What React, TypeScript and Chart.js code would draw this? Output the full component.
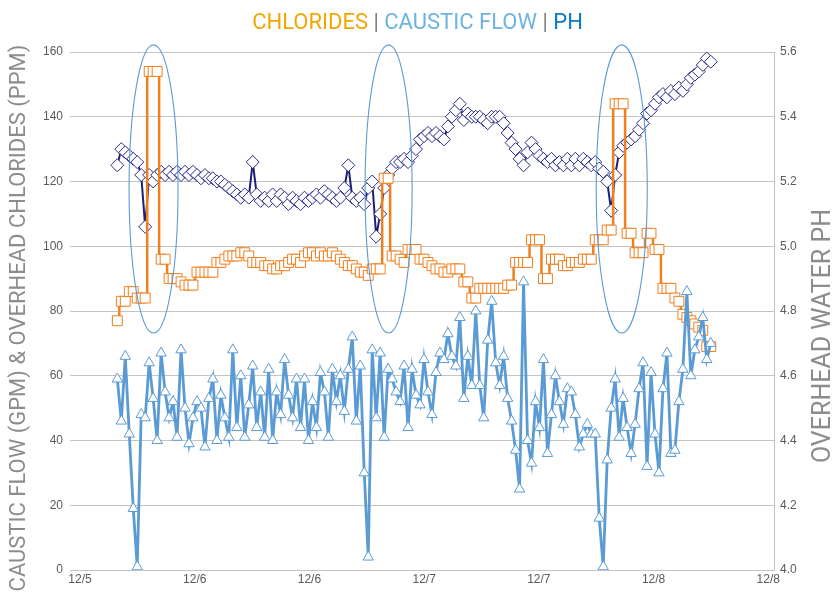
import { useEffect, useRef } from "react";
import { Chart, registerables } from "chart.js";

Chart.register(...registerables);

// ---- axis / tick definitions ----
const X_TICK_HOURS = [0, 12, 24, 36, 48, 60, 72]; // hours after 12/5 12:00
const X_TICK_LABELS = ["12/5", "12/6", "12/6", "12/7", "12/7", "12/8", "12/8"];
const LEFT_MIN = 0;
const LEFT_MAX = 160;
const LEFT_STEP = 20;
const RIGHT_MIN = 4.0;
const RIGHT_MAX = 5.6;
const RIGHT_STEP = 0.2;

const TITLE_PARTS = ["CHLORIDES", "CAUSTIC FLOW", "PH"];
const LEFT_AXIS_TITLE = "CAUSTIC FLOW (GPM) & OVERHEAD CHLORIDES (PPM)";
const RIGHT_AXIS_TITLE = "OVERHEAD WATER PH";

// ---- sampling (one sample every 25 minutes, starting 3.9 h after 12/5 12:00) ----
const SAMPLE_START_H = 3.9;
const SAMPLE_STEP_H = 25 / 60;

// ---- series values ----
const CAUSTIC_FLOW = [
  59, 46, 66, 42, 19, 1, 48, 47, 64, 53,
  40, 67, 55, 47, 52, 41, 68, 50, 39, 47,
  52, 50, 38, 53, 59, 40, 54, 47, 41, 68,
  44, 60, 41, 51, 63, 44, 55, 41, 62, 40,
  55, 48, 65, 54, 47, 59, 44, 59, 40, 52,
  44, 61, 55, 41, 62, 52, 60, 49, 62, 72,
  46, 63, 30, 4, 68, 47, 67, 41, 62, 59,
  55, 52, 63, 44, 62, 54, 51, 65, 55, 48,
  61, 67, 65, 73, 66, 63, 78, 53, 66, 57,
  80, 57, 47, 71, 83, 64, 57, 66, 53, 46,
  37, 25, 89, 40, 33, 52, 44, 65, 36, 48,
  60, 52, 45, 56, 55, 48, 38, 42, 45, 42,
  42, 16, 1, 34, 50, 59, 41, 53, 44, 36,
  45, 56, 64, 32, 61, 42, 30, 56, 67, 36,
  37, 52, 62, 86, 60, 68, 72, 78, 65, 70,
];

const CHLORIDES = [
  77, 83, 83, 86, 86, 84, 84, 84, 154, 154,
  154, 96, 96, 90, 90, 90, 89, 88, 88, 88,
  92, 92, 92, 92, 92, 95, 95, 96, 97, 97,
  97, 98, 98, 97, 95, 95, 95, 94, 94, 93,
  93, 94, 94, 95, 96, 96, 95, 97, 98, 98,
  97, 98, 97, 97, 98, 97, 96, 95, 94, 94,
  93, 92, 92, 91, 93, 93, 93, 121, 121, 97,
  97, 96, 95, 99, 99, 99, 96, 96, 95, 94,
  93, 93, 92, 92, 93, 93, 93, 89, 89, 84,
  84, 87, 87, 87, 87, 87, 87, 87, 88, 88,
  95, 95, 95, 95, 102, 102, 102, 90, 90, 96,
  96, 96, 94, 94, 95, 95, 95, 96, 96, 96,
  102, 102, 102, 105, 105, 144, 144, 144, 104, 104,
  98, 98, 98, 104, 104, 99, 99, 87, 87, 87,
  84, 83, 79, 78, 77, 76, 75, 74, 69, 69,
];

const PH = [
  5.25, 5.3, 5.29, 5.28, 5.27, 5.26, 5.22, 5.06, 5.22, 5.2,
  5.22, 5.23, 5.22, 5.23, 5.22, 5.23, 5.22, 5.23, 5.22, 5.23,
  5.22, 5.21, 5.22, 5.21, 5.21, 5.2, 5.2, 5.19, 5.18, 5.17,
  5.16, 5.15, 5.16, 5.15, 5.26, 5.16, 5.14, 5.15, 5.14, 5.16,
  5.14, 5.16, 5.15, 5.13, 5.15, 5.14, 5.13, 5.15, 5.14, 5.15,
  5.16, 5.15, 5.17, 5.16, 5.15, 5.14, 5.15, 5.18, 5.25, 5.15,
  5.14, 5.15, 5.13, 5.18, 5.2, 5.03, 5.1, 5.18, 5.22, 5.24,
  5.26, 5.26, 5.27, 5.26, 5.28, 5.3, 5.33, 5.34, 5.35, 5.34,
  5.35, 5.34, 5.33, 5.37, 5.4, 5.42, 5.44, 5.39, 5.41, 5.4,
  5.4, 5.4, 5.39, 5.38, 5.4, 5.4, 5.4, 5.38, 5.35, 5.32,
  5.3, 5.27, 5.25, 5.29, 5.32, 5.3, 5.28, 5.27, 5.26, 5.27,
  5.25, 5.26, 5.25, 5.27, 5.25, 5.27, 5.25, 5.27, 5.26, 5.25,
  5.26, 5.24, 5.23, 5.2, 5.11, 5.22, 5.29, 5.31, 5.32, 5.33,
  5.34, 5.36, 5.38, 5.41, 5.42, 5.44, 5.46, 5.47, 5.46, 5.48,
  5.47, 5.49, 5.48, 5.5, 5.52, 5.53, 5.54, 5.56, 5.58, 5.57,
];

// ---- highlighted upset events (ellipses, in data units: hours / left-axis value) ----
const EVENT_CENTER_H = [7.69, 32.28, 56.67];
const EVENT_HALF_WIDTH_H = [2.56, 2.46, 2.67];
const EVENT_LOW = 73.2;
const EVENT_HIGH = 162.2;

const SAMPLE_HOURS = CAUSTIC_FLOW.map((_, i) => SAMPLE_START_H + i * SAMPLE_STEP_H);
const toPoints = (vals: number[]) => vals.map((v, i) => ({ x: SAMPLE_HOURS[i], y: v }));

const ellipsePlugin = {
  id: "eventEllipses",
  afterDatasetsDraw(chart: any) {
    const { ctx, scales } = chart;
    const xs = scales.x;
    const ys = scales.y;
    ctx.save();
    ctx.strokeStyle = "#5b9bd5";
    ctx.lineWidth = 1.1;
    EVENT_CENTER_H.forEach((c, i) => {
      const cx = xs.getPixelForValue(c);
      const rx = Math.abs(xs.getPixelForValue(c + EVENT_HALF_WIDTH_H[i]) - cx);
      const top = ys.getPixelForValue(EVENT_HIGH);
      const bottom = ys.getPixelForValue(EVENT_LOW);
      ctx.beginPath();
      ctx.ellipse(cx, (top + bottom) / 2, rx, (bottom - top) / 2, 0, 0, Math.PI * 2);
      ctx.stroke();
    });
    ctx.restore();
  },
};

const axisTitlePlugin = {
  id: "axisTitles",
  afterDraw(chart: any) {
    const { ctx, width } = chart;
    ctx.save();
    ctx.fillStyle = "#8c8c8c";
    ctx.textAlign = "center";
    ctx.textBaseline = "middle";
    ctx.font = "22px Roboto";
    ctx.translate(19, 318);
    ctx.rotate(-Math.PI / 2);
    ctx.fillText(LEFT_AXIS_TITLE, 0, 0);
    ctx.restore();

    ctx.save();
    ctx.fillStyle = "#8c8c8c";
    ctx.textAlign = "center";
    ctx.textBaseline = "middle";
    ctx.font = "25px Roboto";
    ctx.translate(width - 11, 336);
    ctx.rotate(-Math.PI / 2);
    ctx.fillText(RIGHT_AXIS_TITLE, 0, 0);
    ctx.restore();
  },
};

export default function App() {
  const canvasRef = useRef<HTMLCanvasElement | null>(null);

  useEffect(() => {
    if (!canvasRef.current) return;
    const tickFont = { family: "'Liberation Sans', Arial, sans-serif", size: 12 };
    const chart = new Chart(canvasRef.current, {
      type: "line",
      data: {
        datasets: [
          {
            label: "Caustic Flow",
            data: toPoints(CAUSTIC_FLOW),
            yAxisID: "y",
            borderColor: "#5b9bd5",
            borderWidth: 2.8,
            pointStyle: "triangle",
            pointRadius: 6,
            pointBorderWidth: 1,
            pointBorderColor: "#5b9bd5",
            pointBackgroundColor: "#ffffff",
            tension: 0,
          },
          {
            label: "Chlorides",
            data: toPoints(CHLORIDES),
            yAxisID: "y",
            borderColor: "#f07f1e",
            borderWidth: 2.5,
            stepped: "middle",
            pointStyle: "rect",
            pointRadius: 7,
            pointBorderWidth: 1,
            pointBorderColor: "#f07f1e",
            pointBackgroundColor: "#ffffff",
            tension: 0,
          },
          {
            label: "pH",
            data: toPoints(PH),
            yAxisID: "y1",
            borderColor: "#1f1f78",
            borderWidth: 2,
            pointStyle: "rectRot",
            pointRadius: 6.5,
            pointBorderWidth: 1,
            pointBorderColor: "#2a2a8a",
            pointBackgroundColor: "#ffffff",
            tension: 0,
          },
        ],
      },
      options: {
        animation: false,
        responsive: false,
        events: [],
        layout: { padding: { top: 52, left: 0, right: 0, bottom: 0 } },
        plugins: {
          legend: { display: false },
          tooltip: { enabled: false },
          title: { display: false },
        },
        scales: {
          x: {
            type: "linear",
            min: -1.05,
            max: 72.6,
            grid: { display: false, drawTicks: false },
            border: { display: false },
            afterBuildTicks: (s: any) => {
              s.ticks = X_TICK_HOURS.map((v) => ({ value: v }));
            },
            afterFit: (s: any) => {
              s.height = 25;
            },
            ticks: {
              autoSkip: false,
              maxRotation: 0,
              padding: 2,
              color: "#595959",
              font: tickFont,
              callback: (_v: any, i: number) => X_TICK_LABELS[i],
            },
          },
          y: {
            position: "left",
            min: LEFT_MIN,
            max: LEFT_MAX,
            grid: { color: "#c4c4c4", drawTicks: false, lineWidth: 1 },
            border: { display: false },
            afterFit: (s: any) => {
              s.width = 70;
            },
            ticks: {
              stepSize: LEFT_STEP,
              padding: 7,
              color: "#595959",
              font: tickFont,
            },
          },
          y1: {
            position: "right",
            min: RIGHT_MIN,
            max: RIGHT_MAX,
            grid: { display: false, drawTicks: false },
            border: { display: true, color: "#c4c4c4" },
            afterFit: (s: any) => {
              s.width = 61;
            },
            ticks: {
              stepSize: RIGHT_STEP,
              padding: 6,
              color: "#595959",
              font: tickFont,
              callback: (v: any) => Number(v).toFixed(1),
            },
          },
        },
      },
      plugins: [ellipsePlugin, axisTitlePlugin],
    } as any);
    return () => chart.destroy();
  }, []);

  const colors = ["#f2a600", "#6cb2e4", "#0b78c8"];
  return (
    <div style={{ position: "fixed", left: 0, top: 0, width: 835, height: 595, background: "#fff" }}>
      <canvas ref={canvasRef} width={835} height={595} style={{ position: "absolute", left: 0, top: 0 }} />
      <div
        style={{
          position: "absolute",
          top: 8,
          left: 0,
          width: 835,
          textAlign: "center",
          fontFamily: "Roboto, sans-serif",
          fontSize: 22,
          lineHeight: "28px",
          whiteSpace: "nowrap",
        }}
      >
        {TITLE_PARTS.map((t, i) => (
          <span key={t}>
            {i > 0 && <span style={{ color: "#7f7f7f" }}> | </span>}
            <span style={{ color: colors[i] }}>{t}</span>
          </span>
        ))}
      </div>
    </div>
  );
}
